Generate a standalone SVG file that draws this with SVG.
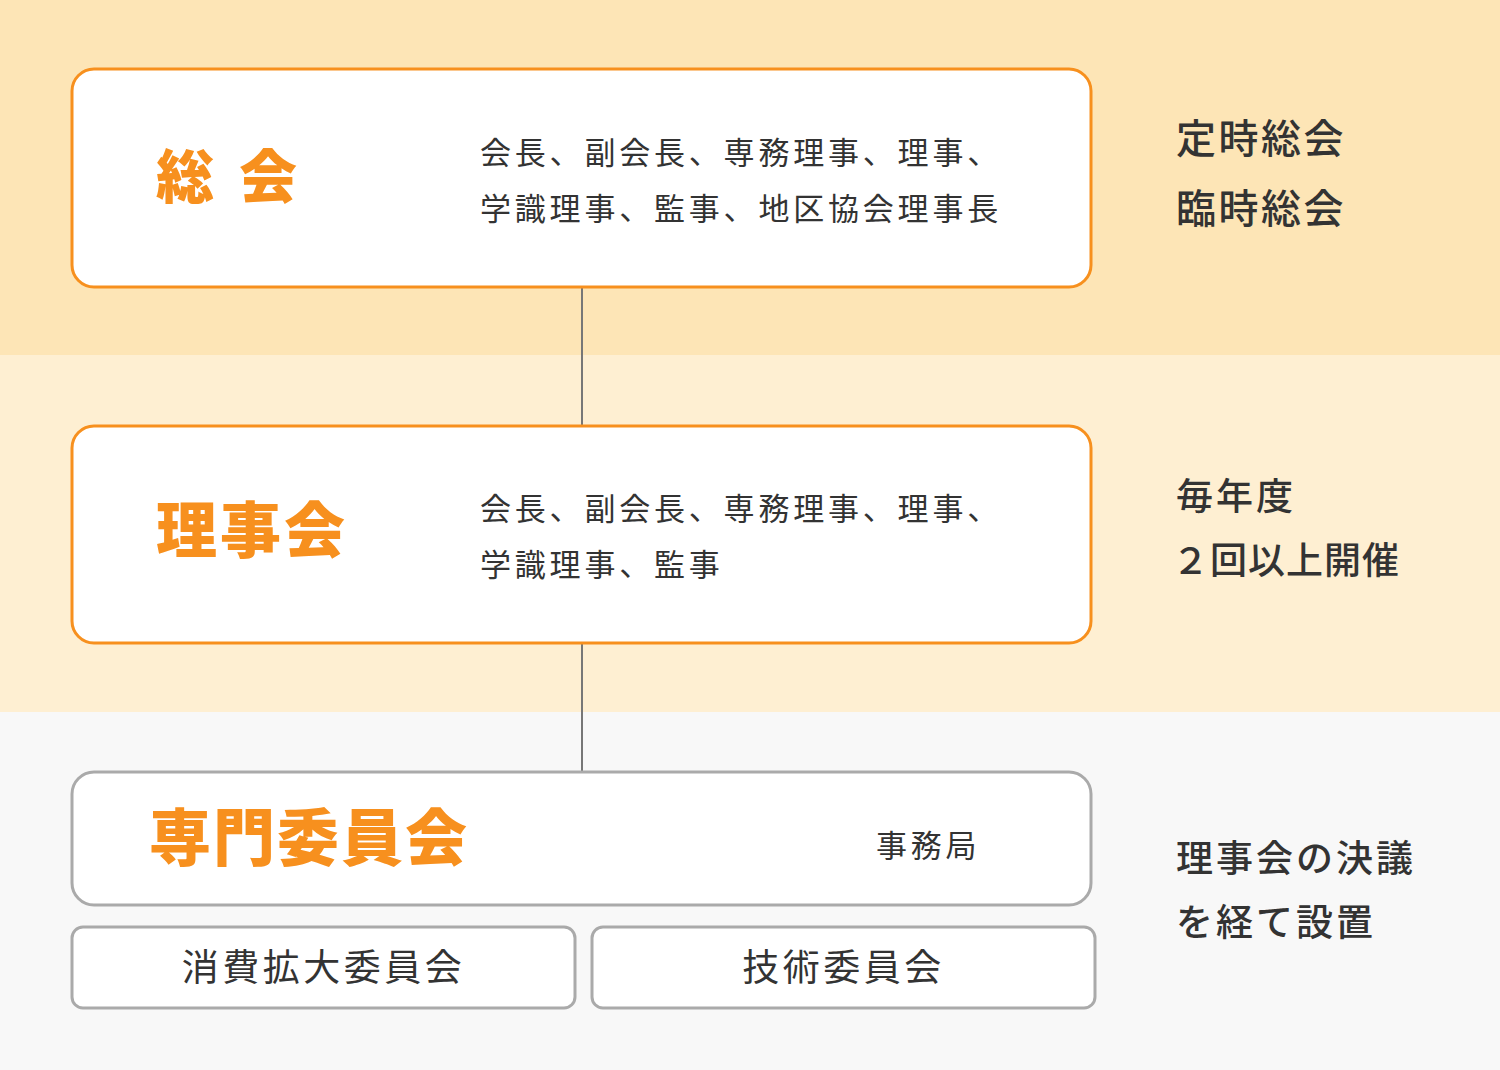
<svg xmlns="http://www.w3.org/2000/svg" width="1500" height="1070" viewBox="0 0 1500 1070">
<style>
.band1{fill:#fde5b6}
.band2{fill:#feefd2}
.band3{fill:#f8f8f8}
.obox{fill:#fff;stroke:#f7901e;stroke-width:3}
.gbox{fill:#fff;stroke:#aaaaaa;stroke-width:3}
.title{font-family:"Noto Sans CJK JP","Noto Sans",sans-serif;font-weight:900;fill:#f7901e}
.body{font-family:"Noto Sans CJK JP","Noto Sans",sans-serif;font-weight:400;fill:#333;font-size:31px;letter-spacing:3.8px}
.side{font-family:"Noto Sans CJK JP","Noto Sans",sans-serif;font-weight:500;fill:#333;font-size:37px;letter-spacing:3px}
.sub{font-family:"Noto Sans CJK JP","Noto Sans",sans-serif;font-weight:400;fill:#333;font-size:37px;letter-spacing:3.5px}
.conn{stroke:#777;stroke-width:2;fill:none}
</style>
<rect class="band1" x="0" y="0" width="1500" height="355"/>
<rect class="band2" x="0" y="355" width="1500" height="357"/>
<rect class="band3" x="0" y="712" width="1500" height="358"/>
<g id="connectors">
<line class="conn" x1="582" y1="287" x2="582" y2="426"/>
<line class="conn" x1="582" y1="643" x2="582" y2="772"/>
</g>
<g id="soukai">
<rect class="obox" x="72" y="69" width="1019" height="218" rx="22"/>
<text class="title" x="156" y="198" font-size="58">総<tspan x="239">会</tspan></text>
<text class="body" x="480" y="164">会長、副会長、専務理事、理事、</text>
<text class="body" x="480" y="220">学識理事、監事、地区協会理事長</text>
</g>
<g id="rijikai">
<rect class="obox" x="72" y="426" width="1019" height="217" rx="22"/>
<text class="title" x="156" y="553" font-size="61" style="letter-spacing:3px">理事会</text>
<text class="body" x="480" y="520">会長、副会長、専務理事、理事、</text>
<text class="body" x="480" y="576">学識理事、監事</text>
</g>
<g id="senmon">
<rect class="gbox" x="72" y="772" width="1019" height="133" rx="22"/>
<text class="title" x="149" y="861" font-size="62" style="letter-spacing:2px">専門委員会</text>
<text class="body" x="876" y="857">事務局</text>
</g>
<g id="shouhi">
<rect class="gbox" x="72" y="927" width="503" height="81" rx="11"/>
<text class="sub" x="323.5" y="981" text-anchor="middle">消費拡大委員会</text>
</g>
<g id="gijutsu">
<rect class="gbox" x="592" y="927" width="503" height="81" rx="11"/>
<text class="sub" x="843.5" y="981" text-anchor="middle">技術委員会</text>
</g>
<g id="notes">
<text class="side" x="1176" y="153" style="font-size:40px;letter-spacing:2.5px">定時総会</text>
<text class="side" x="1176" y="223" style="font-size:40px;letter-spacing:2.5px">臨時総会</text>
<text class="side" x="1176" y="510">毎年度</text>
<text class="side" x="1172" y="574" style="letter-spacing:1px">２回以上開催</text>
<text class="side" x="1176" y="872">理事会の決議</text>
<text class="side" x="1176" y="936">を経て設置</text>
</g>
</svg>
